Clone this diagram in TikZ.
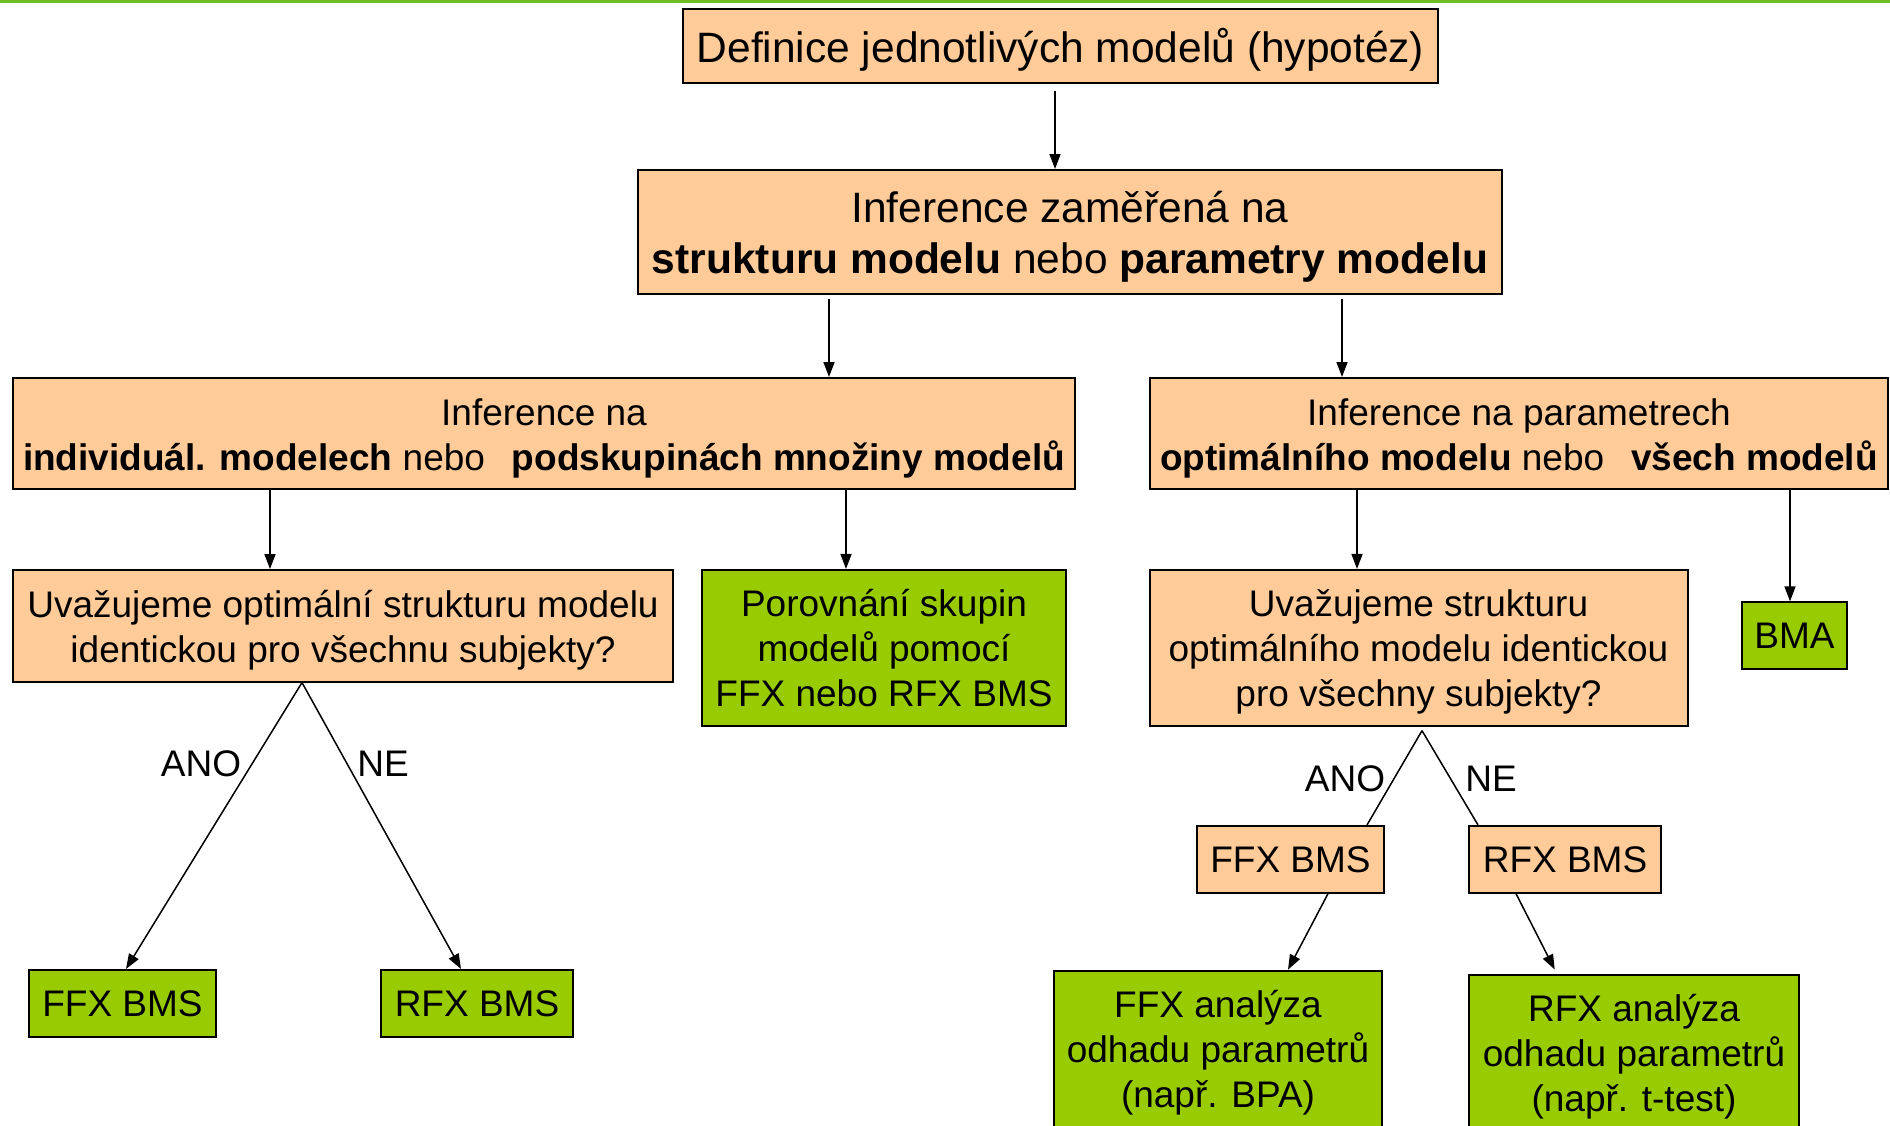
\documentclass[tikz,border=0pt]{standalone}
\usepackage{fontspec}
\setmainfont{Liberation Sans}
\usetikzlibrary{arrows.meta}

\definecolor{peach}{RGB}{255,204,153}
\definecolor{leaf}{RGB}{153,204,0}
\definecolor{topline}{RGB}{110,190,40}

\newcommand{\bigtxt}{\fontsize{42.5}{50.6}\selectfont}
\newcommand{\midtxt}{\fontsize{37}{45}\selectfont}
% centred lines with a fixed baseline distance; the box baseline is the last line
\newcommand{\stk}[1]{\vbox{\lineskiplimit=-\maxdimen\halign{\hfil##\hfil\cr#1\crcr}}}

\tikzset{
  box/.style={draw=black, line width=2pt, inner sep=0pt, font=\midtxt, text depth=0pt},
  obox/.style={box, fill=peach},
  gbox/.style={box, fill=leaf},
  % last baseline sits #1/2 below the box centre
  bl/.style={text height=#1},
  arr/.style={line width=1.5pt, -{Triangle[length=15pt,width=11pt]}},
  ln/.style={line width=1.5pt},
  lbl/.style={inner sep=0pt, font=\midtxt, anchor=base}
}

\begin{document}
\begin{tikzpicture}[x=1pt, y=-1pt]
\useasboundingbox (0,0) rectangle (1890,1125);
\clip (0,0) rectangle (1890,1125);
\fill[white] (0,0) rectangle (1890,1125);
\fill[topline] (0,0) rectangle (1890,3);

% top levels
\node[obox, bl=33.4pt, minimum width=755pt, minimum height=74pt, font=\bigtxt] (b1) at (1060.5,46)
  {Definice jednotlivých modelů (hypotéz)};
\node[obox, bl=82.6pt, minimum width=864pt, minimum height=124pt, font=\bigtxt] (b2) at (1070,232)
  {\stk{Inference zaměřená na\cr\textbf{strukturu modelu} nebo \textbf{parametry modelu}}};

% second level
\node[obox, bl=73pt, minimum width=1062pt, minimum height=111pt] (b3) at (544,433.5)
  {\stk{Inference na\cr\textbf{individuál. modelech} nebo\hspace{0.45em} \textbf{podskupinách množiny modelů}}};
\node[obox, bl=73pt, minimum width=738pt, minimum height=111pt] (b4) at (1519,433.5)
  {\stk{Inference na parametrech\cr\textbf{optimálního modelu} nebo\hspace{0.45em} \textbf{všech modelů}}};

% third level
\node[obox, bl=73pt, minimum width=660pt, minimum height=111.5pt] (b5) at (343,625.8)
  {\stk{Uvažujeme optimální strukturu modelu\cr identickou pro všechnu subjekty?}};
\node[gbox, bl=117.8pt, minimum width=364pt, minimum height=155.7pt] (b6) at (884,647.8)
  {\stk{Porovnání skupin\cr modelů pomocí\cr FFX nebo RFX BMS}};
\node[obox, bl=117.8pt, minimum width=538pt, minimum height=155.7pt] (b7) at (1418.5,647.8)
  {\stk{Uvažujeme strukturu\cr optimálního modelu identickou\cr pro všechny subjekty?}};
\node[gbox, bl=25.2pt, minimum width=105pt, minimum height=66.7pt] (b8) at (1794.5,635.7) {BMA};

% left decision
\node[gbox, bl=25.4pt, minimum width=187pt, minimum height=66.7pt] (b9) at (122.5,1003.3) {FFX BMS};
\node[gbox, bl=25.4pt, minimum width=192pt, minimum height=66.7pt] (b10) at (477,1003.3) {RFX BMS};
\node[lbl] (ano1) at (201,776) {ANO};
\node[lbl] (ne1) at (383,776) {NE};

% right decision
\node[obox, bl=26.8pt, minimum width=187pt, minimum height=66.7pt] (b11) at (1290.5,859.3) {FFX BMS};
\node[obox, bl=26.8pt, minimum width=192pt, minimum height=66.7pt] (b12) at (1565,859.3) {RFX BMS};
\node[lbl] (ano2) at (1345,791.7) {ANO};
\node[lbl] (ne2) at (1491,791.7) {NE};
\node[gbox, bl=117.6pt, minimum width=328pt, minimum height=156.6pt] (b13) at (1218,1049)
  {\stk{FFX analýza\cr odhadu parametrů\cr (např. BPA)}};
\node[gbox, bl=117pt, minimum width=330pt, minimum height=156pt] (b14) at (1634,1053)
  {\stk{RFX analýza\cr odhadu parametrů\cr (např. t-test)}};

% vertical connectors
\draw[arr, shorten <=7pt] ([xshift=-5.5pt]b1.south) -- ([xshift=-5.5pt]b1.south |- b2.north);
\draw[arr, shorten <=4pt] ([xshift=-241pt]b2.south) -- ([xshift=-241pt]b2.south |- b3.north);
\draw[arr, shorten <=4pt] ([xshift=272pt]b2.south) -- ([xshift=272pt]b2.south |- b4.north);
\draw[arr] ([xshift=-274pt]b3.south) -- ([xshift=-274pt]b3.south |- b5.north);
\draw[arr] ([xshift=302pt]b3.south) -- ([xshift=302pt]b3.south |- b6.north);
\draw[arr] ([xshift=-162pt]b4.south) -- ([xshift=-162pt]b4.south |- b7.north);
\draw[arr] ([xshift=271pt]b4.south) -- ([xshift=271pt]b4.south |- b8.north);

% left split
\coordinate (apexL) at ([xshift=-41pt]b5.south);
\draw[arr] (apexL) -- ([xshift=3.5pt]b9.north);
\draw[arr] (apexL) -- ([xshift=-16pt]b10.north);

% right split
\coordinate (apexR) at ([xshift=3.5pt,yshift=-4pt]b7.south);
\draw[ln] (apexR) -- ([xshift=76.5pt]b11.north);
\draw[ln] (apexR) -- ([xshift=-87pt]b12.north);
\draw[arr] ([xshift=37.5pt]b11.south) -- ([xshift=70pt]b13.north);
\draw[arr, shorten >=5pt] ([xshift=-49pt]b12.south) -- ([xshift=-77pt]b14.north);
\end{tikzpicture}
\end{document}
